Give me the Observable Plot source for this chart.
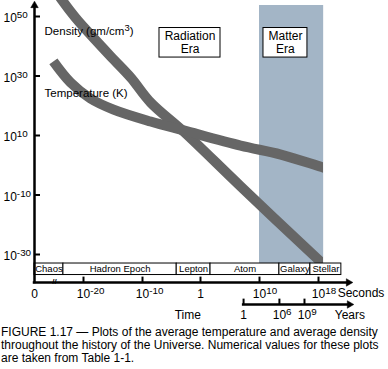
<!DOCTYPE html>
<html><head><meta charset="utf-8">
<script src="https://cdn.jsdelivr.net/npm/d3@7"></script>
<script src="https://cdn.jsdelivr.net/npm/@observablehq/plot@0.6"></script>
<style>
body{margin:0;background:#fff;font-family:"Liberation Sans",Arial,sans-serif;}
#cap{font-size:12px;line-height:13px;margin:0 0 0 1px;white-space:nowrap;color:#000;}
</style></head><body>
<div id="chart"></div>
<div id="cap">FIGURE 1.17 — Plots of the average temperature and average density<br>throughout the history of the Universe. Numerical values for these plots<br>are taken from Table 1-1.</div>
<script>
// ---- data (x = log10 seconds, y = log10 value) ----
const densityT = [-24.7, -23.6, -21.4, -19.0, -15.4, -12.0, -8.6, -2.9, 6.8, 18.4, 19.6];
const densityV = [58.7, 55.4, 49.7, 44.3, 36.6, 29.5, 21.1, 11.3, -7.1, -32.7, -35.4];
const tempT = [-25.1, -22.2, -18.8, -14.9, -8.6, -2.9, 6.8, 12.9, 18.7, 19.6];
const tempV = [34.9, 27.8, 22.4, 18.7, 14.7, 11.7, 6.6, 3.6, -0.8, -1.4];

const epochNames = ["Chaos", "Hadron Epoch", "Lepton", "Atom", "Galaxy", "Stellar"];
const epochEdges = [-28.3, -23.4, -4.1, 1.7, 12.7, 16.9, 21.1];

const secTickValues = [-20, -10, 0, 10, 18];
const secTickLabels = ["10^{-20}", "10^{-10}", "1", "10^{10}", "10^{18}"];
const yTickValues = [-30, -10, 10, 30, 50];
const yTickLabels = ["10^{-30}", "10^{-10}", "10^{10}", "10^{30}", "10^{50}"];
const yearTickValues = [7.3, 12.7, 16.1];
const yearTickLabels = ["1", "10^{6}", "10^{9}"];

const eraNames = ["Radiation\nEra", "Matter\nEra"];
const eraBoxX1 = [-7.07, 10.54];
const eraBoxX2 = [3.39, 16.5];
const matterBand = [{x1: 10, x2: 18.7, y1: 53.7, y2: -33.03}];

// ---- layout constants (data units) ----
const X_BREAKS = [-28.3, -20, -10, 0, 10, 18];
const X_PX = [34, 83, 142, 200, 259, 318];
const ORIGIN = -28.3, AXIS_Y = -39.4, YEARS_Y = -46.8, Y_TOP = 53.7;
const BAR_TOP = -33.03, BAR_BOT = -36.9, BAR_MID = -34.96;
const BOX_TOP = 46.13, BOX_BOT = 36.2, BOX_MID = 41.2;

const density = densityT.map((t, i) => ({t, v: densityV[i]}));
const temperature = tempT.map((t, i) => ({t, v: tempV[i]}));
const epochs = epochNames.map((name, i) => ({name, start: epochEdges[i], end: epochEdges[i + 1]}));
const secTicks = secTickValues.map((v, i) => ({v, label: secTickLabels[i]}));
const yTicks = yTickValues.map((v, i) => ({v, label: yTickLabels[i]}));
const yearTicks = yearTickValues.map((v, i) => ({v, label: yearTickLabels[i]}));
const eras = eraNames.map((name, i) => ({name, x1: eraBoxX1[i], x2: eraBoxX2[i]}));

const xs = d3.scaleLinear().domain(X_BREAKS).range(X_PX);
const mid = (a, b) => xs.invert((xs(a) + xs(b)) / 2);
const hasSup = d => d.label.includes("^");
const gray = "#666666";

const chart = Plot.plot({
  width: 388, height: 326,
  marginLeft: 34, marginRight: 65, marginTop: 0, marginBottom: 63,
  x: {type: "linear", domain: X_BREAKS, range: X_PX, axis: null},
  y: {type: "linear", domain: [-30, 50], range: [254, 16], axis: null},
  style: {fontFamily: "'Liberation Sans', Arial, sans-serif", fontSize: "11px", background: "white", color: "black"},
  marks: [
    Plot.rect(matterBand, {x1: "x1", x2: "x2", y1: "y1", y2: "y2", fill: "#a3b5c6"}),
    Plot.line(density, {x: "t", y: "v", stroke: gray, strokeWidth: 10, curve: "catmull-rom", strokeLinecap: "butt", clip: true}),
    Plot.line(temperature, {x: "t", y: "v", stroke: gray, strokeWidth: 10, curve: "catmull-rom", strokeLinecap: "butt", clip: true}),
    // epoch bar
    Plot.rect(epochs, {x1: "start", x2: "end", y1: BAR_TOP, y2: BAR_BOT, fill: "white", stroke: "black", strokeWidth: 1}),
    Plot.text(epochs, {x: d => mid(d.start, d.end), y: BAR_MID, text: "name", fontSize: 9.5}),
    // era boxes
    Plot.rect(eras, {x1: "x1", x2: "x2", y1: BOX_TOP, y2: BOX_BOT, fill: "white", stroke: "black", strokeWidth: 1}),
    Plot.text(eras, {x: d => mid(d.x1, d.x2), y: BOX_MID, text: "name", fontSize: 12, lineHeight: 1.08}),
    // axes lines
    Plot.ruleX([ORIGIN], {x: d => d, y1: AXIS_Y, y2: Y_TOP, strokeWidth: 2.5, strokeLinecap: "square"}),
    Plot.ruleY([AXIS_Y], {y: d => d, x1: ORIGIN, x2: 22.0, strokeWidth: 2.5, strokeLinecap: "square"}),
    Plot.ruleY([YEARS_Y], {y: d => d, x1: 7.1, x2: 22.1, strokeWidth: 2.5}),
    Plot.dot([[ORIGIN, 53.7]], {x: d => d[0], y: d => d[1], symbol: "triangle", r: 2.8, fill: "black", stroke: "black", strokeWidth: 0.5}),
    Plot.dot([[22.07, AXIS_Y], [22.2, YEARS_Y]], {x: d => d[0], y: d => d[1], symbol: "triangle", r: 2.8, rotate: 90, fill: "black", stroke: "black", strokeWidth: 0.5}),
    // ticks
    Plot.ruleY(yTicks, {y: "v", x1: ORIGIN, x2: ORIGIN + 1.02, strokeWidth: 2}),
    Plot.ruleX(secTicks, {x: "v", y1: AXIS_Y, y2: AXIS_Y + 1.8, strokeWidth: 2}),
    Plot.ruleX(yearTicks, {x: "v", y1: YEARS_Y, y2: YEARS_Y + 1.8, strokeWidth: 2}),
    // break mark on seconds axis
    Plot.text(["//"], {x: -24.9, y: AXIS_Y, text: d => d, fontSize: 8, fontWeight: "bold", dy: -1}),
    // tick labels
    Plot.text(yTicks, {x: ORIGIN, y: "v", text: "label", textAnchor: "start", dx: -31, dy: 2, fontSize: 12}),
    Plot.text(secTicks.filter(hasSup), {x: "v", y: AXIS_Y, text: "label", textAnchor: "start", dx: -6.7, dy: 12, fontSize: 12}),
    Plot.text(secTicks.filter(d => !hasSup(d)).concat([{v: ORIGIN, label: "0"}]), {x: "v", y: AXIS_Y, text: "label", dy: 12, fontSize: 12}),
    Plot.text(yearTicks.filter(hasSup), {x: "v", y: YEARS_Y, text: "label", textAnchor: "start", dx: -6.7, dy: 10.5, fontSize: 12}),
    Plot.text(yearTicks.filter(d => !hasSup(d)), {x: "v", y: YEARS_Y, text: "label", dy: 10.5, fontSize: 12}),
    // axis titles
    Plot.text(["Seconds"], {x: 20.6, y: AXIS_Y, text: d => d, textAnchor: "start", dy: 11, fontSize: 12}),
    Plot.text(["Years"], {x: 20.2, y: YEARS_Y, text: d => d, textAnchor: "start", dy: 10.5, fontSize: 12}),
    Plot.text(["Time"], {x: -2.2, y: YEARS_Y, text: d => d, dy: 10.5, fontSize: 12}),
    // curve labels
    Plot.text(["Density (gm/cm^{3})"], {x: -26.6, y: 44.96, text: d => d, textAnchor: "start", fontSize: 11.5}),
    Plot.text(["Temperature (K)"], {x: -26.6, y: 24.1, text: d => d, textAnchor: "start", fontSize: 11.5})
  ]
});

// superscripts: "a^{b}c"
const NS = "http://www.w3.org/2000/svg";
chart.querySelectorAll("text").forEach(t => {
  const s = t.textContent;
  const m = s.match(/^(.*?)\^\{(.*?)\}(.*)$/);
  if (!m) return;
  t.textContent = "";
  const a = document.createElementNS(NS, "tspan"); a.textContent = m[1]; t.appendChild(a);
  const b = document.createElementNS(NS, "tspan");
  b.setAttribute("dy", "-4"); b.style.fontSize = "0.82em"; b.textContent = m[2]; t.appendChild(b);
  if (m[3]) {
    const c = document.createElementNS(NS, "tspan");
    c.setAttribute("dy", "4"); c.textContent = m[3]; t.appendChild(c);
  }
});
document.getElementById("chart").appendChild(chart);
</script></body></html>
